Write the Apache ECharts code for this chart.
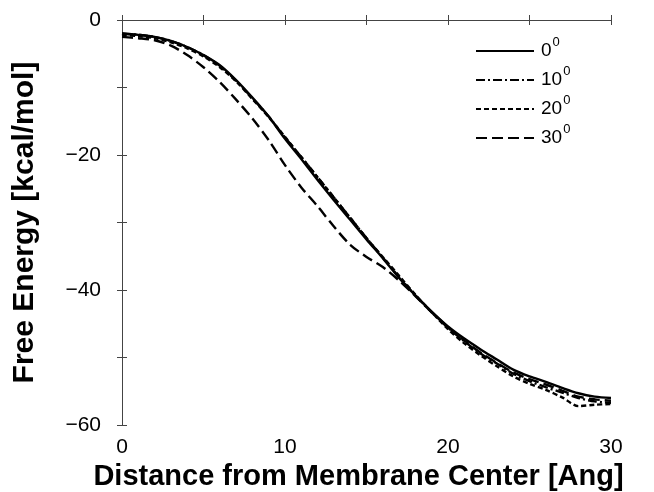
<!DOCTYPE html>
<html>
<head>
<meta charset="utf-8">
<script src="https://cdn.jsdelivr.net/npm/echarts@6/dist/echarts.min.js"></script>
<style>
  html, body { margin: 0; padding: 0; background: #fff; }
  #chart { width: 654px; height: 492px; }
</style>
</head>
<body>
<div id="chart"></div>
<script>
// distance from membrane center [Ang]
const distance = [0, 1, 2, 3, 4, 5, 6, 7, 8, 9, 10, 11, 12, 13, 14, 15, 16, 17, 18, 19, 20, 21, 22, 23, 24, 25, 26, 27, 28, 29, 30]

// free energy [kcal/mol] for each tilt angle
const angle0 = [-2.0, -2.2, -2.5, -3.1, -4.0, -5.2, -6.7, -8.9, -11.5, -14.3, -17.6, -20.6, -23.7, -26.7, -29.6, -32.5, -35.3, -38.2, -40.8, -43.2, -45.4, -47.2, -48.8, -50.3, -51.8, -52.8, -53.6, -54.5, -55.3, -55.8, -56.0]
const angle10 = [-2.0, -2.2, -2.5, -3.1, -4.0, -5.2, -6.8, -9.0, -11.6, -14.3, -17.4, -20.3, -23.3, -26.3, -29.3, -32.3, -35.2, -38.1, -40.8, -43.3, -45.6, -47.6, -49.4, -50.9, -52.4, -53.5, -54.4, -55.2, -56.0, -56.5, -56.7]
const angle20 = [-2.2, -2.4, -2.7, -3.3, -4.2, -5.4, -7.0, -9.1, -11.7, -14.4, -17.3, -20.3, -23.3, -26.3, -29.3, -32.3, -35.1, -37.9, -40.7, -43.3, -45.8, -47.9, -49.7, -51.3, -52.8, -53.9, -54.8, -55.9, -57.2, -57.0, -56.9]
const angle30 = [-2.5, -2.7, -3.0, -3.8, -5.2, -7.0, -9.2, -11.8, -14.6, -17.8, -21.5, -24.8, -27.6, -30.6, -33.3, -35.1, -36.6, -38.6, -40.9, -43.3, -45.5, -47.5, -49.3, -50.8, -52.2, -53.2, -54.0, -54.9, -55.8, -56.2, -56.4]

const seriesNames = ['0°', '10°', '20°', '30°']
const dashes = ['solid', [9, 3, 2, 3], [5, 3], [11, 5]]
const values = [angle0, angle10, angle20, angle30]

const xTicks = [0, 10, 20, 30]
const yTicks = [0, -20, -40, -60]

const chart = echarts.init(document.getElementById('chart'))

const fontFamily = '"Liberation Sans", Arial, Helvetica, sans-serif'
const axisColor = '#444'

const minus = v => String(v).replace('-', '\u2212')

const tickStyle = { inside: true, length: 5, lineStyle: { color: axisColor } }

const option = {
  backgroundColor: '#fff',
  animation: false,
  textStyle: { fontFamily: fontFamily },
  grid: { left: 122, right: 43, top: 20, bottom: 67, containLabel: false, outerBoundsMode: 'none' },
  legend: {
    left: 470,
    top: 31,
    orient: 'vertical',
    itemWidth: 58,
    itemHeight: 14,
    itemGap: 4.5,
    data: seriesNames,
    itemStyle: { color: 'rgba(0,0,0,0)', borderWidth: 0 },
    formatter: name => '{n|' + name.replace('°', '') + '}{s|0}',
    textStyle: {
      rich: {
        n: { fontSize: 19, color: '#000', fontFamily: fontFamily, lineHeight: 30, padding: [0, 0, 0, 2] },
        s: { fontSize: 13, color: '#000', fontFamily: fontFamily, lineHeight: 6, verticalAlign: 'top', padding: [0, 0, 0, 1] }
      }
    }
  },
  xAxis: [
    {
      type: 'value',
      min: 0,
      max: 30,
      interval: 5,
      name: 'Distance from Membrane Center [Ang]',
      nameLocation: 'middle',
      nameGap: 37,
      nameTextStyle: { fontSize: 29, fontWeight: 'bold', color: '#000', fontFamily: fontFamily, padding: [0, 16, 0, 0] },
      axisLine: { show: true, lineStyle: { color: axisColor, width: 1 } },
      axisTick: tickStyle,
      axisLabel: { fontSize: 21, color: '#000', margin: 12, formatter: v => xTicks.includes(v) ? minus(v) : '' },
      splitLine: { show: false }
    },
    {
      type: 'value',
      position: 'top',
      min: 0,
      max: 30,
      interval: 5,
      axisLine: { show: true, lineStyle: { color: axisColor, width: 1 } },
      axisTick: tickStyle,
      axisLabel: { show: false },
      splitLine: { show: false }
    }
  ],
  yAxis: [
    {
      type: 'value',
      min: -60,
      max: 0,
      interval: 10,
      name: 'Free Energy [kcal/mol]',
      nameLocation: 'middle',
      nameGap: 82,
      nameTextStyle: { fontSize: 30, fontWeight: 'bold', color: '#000', fontFamily: fontFamily },
      axisLine: { show: true, lineStyle: { color: axisColor, width: 1 } },
      axisTick: tickStyle,
      axisLabel: { fontSize: 21, color: '#000', margin: 21, formatter: v => yTicks.includes(v) ? minus(v) : '' },
      splitLine: { show: false }
    },
    {
      type: 'value',
      position: 'right',
      min: -60,
      max: 0,
      interval: 10,
      axisLine: { show: true, lineStyle: { color: axisColor, width: 1 } },
      axisTick: tickStyle,
      axisLabel: { show: false },
      splitLine: { show: false }
    }
  ],
  series: seriesNames.map((name, i) => ({
    name: name,
    type: 'line',
    xAxisIndex: 0,
    yAxisIndex: 0,
    showSymbol: false,
    symbol: 'none',
    smooth: 0.3,
    data: distance.map((d, j) => [d, values[i][j]]),
    lineStyle: { color: '#000', width: 2.4, type: dashes[i] },
    itemStyle: { color: '#000' }
  }))
}

chart.setOption(option)
</script>
</body>
</html>
